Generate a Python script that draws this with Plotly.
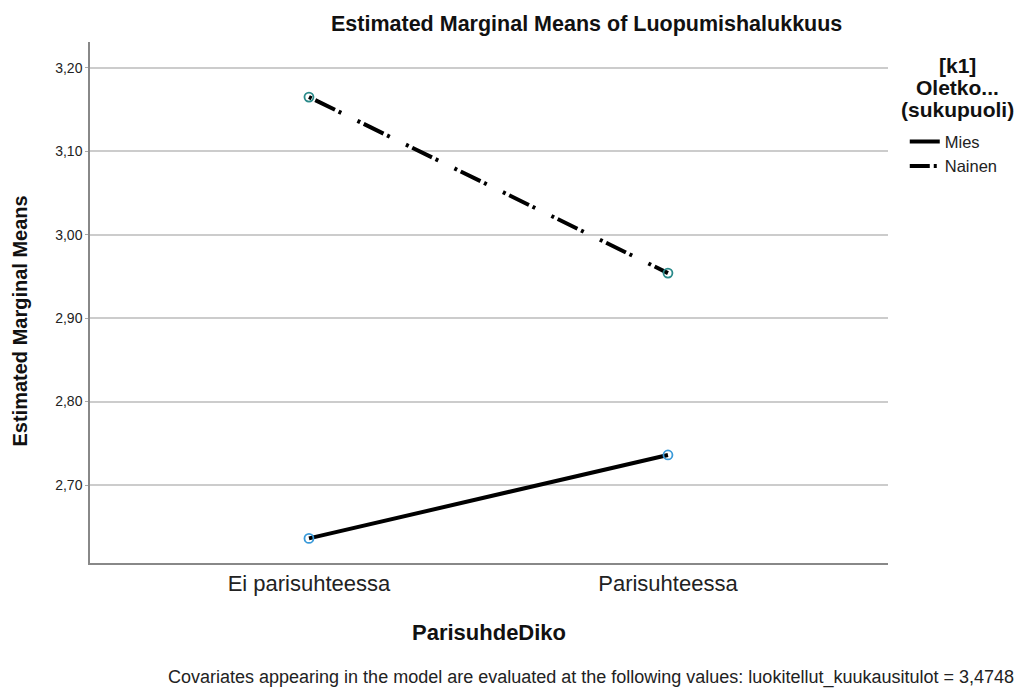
import plotly.graph_objects as go

categories = ["Ei parisuhteessa", "Parisuhteessa"]
mies = [2.636, 2.736]
nainen = [3.165, 2.954]
y_ticks = [2.70, 2.80, 2.90, 3.00, 3.10, 3.20]
legend_title_lines = ["[k1]", "Oletko...", "(sukupuoli)"]

REG = "Liberation Sans, Arial"
DASH = "3px,4px,22px,4px,3px,18px"

fig = go.Figure()
fig.add_trace(go.Scatter(
    x=[0, 1], y=mies, name="Mies", mode="lines+markers", showlegend=False,
    line=dict(color="black", width=4),
    marker=dict(symbol="circle-open", size=9, color="#3a9ad9", line=dict(width=1.8)),
))
fig.add_trace(go.Scatter(
    x=[0, 1], y=nainen, name="Nainen", mode="lines+markers", showlegend=False,
    line=dict(color="black", width=4, dash=DASH),
    marker=dict(symbol="circle-open", size=9, color="#2a8a8a", line=dict(width=1.8)),
))
# legend-only entries (line samples without markers)
fig.add_trace(go.Scatter(x=[None], y=[None], name="Mies", mode="lines",
                         line=dict(color="black", width=4)))
fig.add_trace(go.Scatter(x=[None], y=[None], name="Nainen", mode="lines",
                         line=dict(color="black", width=4, dash="20px,4px,3px,20px")))

annotations = [
    dict(text="<b>Estimated Marginal Means of Luopumishalukkuus</b>", xref="paper", yref="paper",
         x=0.6216, y=1.0345, xanchor="center", yanchor="middle", showarrow=False,
         font=dict(family=REG, size=21.5, color="#111")),
    dict(text="<b>Estimated Marginal Means</b>", xref="paper", yref="paper",
         x=-0.088, y=0.465, xanchor="center", yanchor="middle", textangle=-90, showarrow=False,
         font=dict(family=REG, size=20, color="#111")),
    dict(text="<b>ParisuhdeDiko</b>", xref="paper", yref="paper",
         x=0.5, y=-0.134, xanchor="center", yanchor="middle", showarrow=False,
         font=dict(family=REG, size=22, color="#111")),
    dict(text="Covariates appearing in the model are evaluated at the following values: luokitellut_kuukausitulot = 3,4748",
         xref="paper", yref="paper", x=1.1604, y=-0.2207, xanchor="right", yanchor="middle",
         showarrow=False, font=dict(family=REG, size=18, color="#222")),
]
for i, line in enumerate(legend_title_lines):
    ypx = 66 + 21.5 * i
    annotations.append(dict(text=f"<b>{line}</b>", xref="paper", yref="paper",
                            x=1.0877, y=(563 - ypx) / 521, xanchor="center", yanchor="middle",
                            showarrow=False, font=dict(family=REG, size=21, color="#111")))

fig.update_layout(
    width=1023, height=689,
    margin=dict(l=90, r=135, t=42, b=126),
    paper_bgcolor="white", plot_bgcolor="white",
    separators=",.",
    showlegend=True,
    legend=dict(x=1.021, xanchor="left", y=0.842, yanchor="top",
                font=dict(family=REG, size=16.5, color="#222"),
                itemwidth=30, tracegroupgap=0, bgcolor="rgba(0,0,0,0)"),
    xaxis=dict(range=[-0.61, 1.613], tickvals=[0, 1], ticktext=categories,
               showgrid=False, zeroline=False, showline=True, linecolor="#888", linewidth=1.5,
               ticks="", tickfont=dict(family=REG, size=22, color="#222")),
    yaxis=dict(range=[2.6065, 3.231], tickvals=y_ticks, tickformat=".2f",
               showgrid=True, gridcolor="#cccccc", gridwidth=1.5, zeroline=False,
               showline=True, linecolor="#888", linewidth=1.5,
               ticks="outside", ticklen=3, tickcolor="#aaa",
               tickfont=dict(family=REG, size=14, color="#222")),
    annotations=annotations,
)

fig.write_html("out.html", config={"displayModeBar": False},
               post_script="document.body.style.margin='0';document.body.style.overflow='hidden';")
